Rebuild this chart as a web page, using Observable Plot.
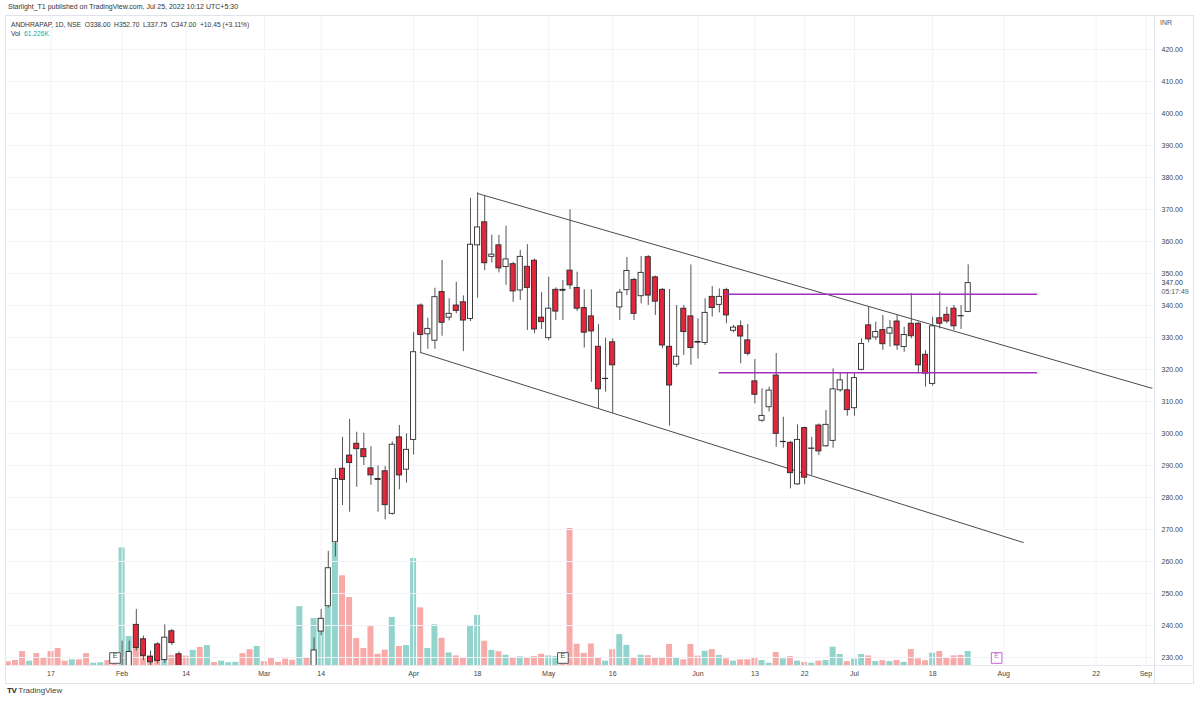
<!DOCTYPE html>
<html>
<head>
<meta charset="utf-8">
<script src="https://cdn.jsdelivr.net/npm/d3@7"></script>
<script src="https://cdn.jsdelivr.net/npm/@observablehq/plot@0.6"></script>
<style>
  html, body { margin: 0; padding: 0; background: #fff; }
  #wrap { position: relative; width: 1200px; height: 702px; overflow: hidden; font-family: "Liberation Sans", Arial, sans-serif; }
  .abs { position: absolute; white-space: pre; }
  #frame { position: absolute; left: 5px; top: 15px; width: 1189px; height: 669px; border: 1px solid #e0e3eb; box-sizing: border-box; }
  #sep { position: absolute; left: 1154px; top: 15px; width: 1px; height: 669px; background: #e0e3eb; }
  #paneBottom { position: absolute; left: 6px; top: 665px; width: 1187px; height: 1px; background: #e6e8ee; }
  #vol, #price { position: absolute; left: 6px; top: 15px; }
</style>
</head>
<body>
<div id="wrap">
  <div id="frame"></div>
  <div id="vol"></div>
  <div id="price"></div>
  <div id="sep"></div>
  <div id="paneBottom"></div>
  <div class="abs" style="left:8px;top:3px;font-size:7px;color:#333;">Starlight_T1 published on TradingView.com, Jul 25, 2022 10:12 UTC+5:30</div>
  <div class="abs" style="left:11px;top:20.5px;font-size:6.7px;color:#333;">ANDHRAPAP, 1D, NSE  O338.00  H352.70  L337.75  C347.00  +10.45 (+3.11%)</div>
  <div class="abs" style="left:11px;top:30px;font-size:6.7px;color:#333;">Vol  <span style="color:#26a69a">61.226K</span></div>
  <div class="abs" style="left:1160px;top:19px;font-size:7px;color:#555;">INR</div>
  <div class="abs" style="left:7px;top:686px;font-size:8px;color:#222;"><b style="letter-spacing:-0.5px">TV</b> <span style="color:#444">TradingView</span></div>
</div>
<script>
// ---- time axis (trading-day index, 0 = 17 Jan 2022) ----
const tickDays   = [0, 10, 19, 30, 38, 51, 60, 70, 79, 91, 99, 106, 113, 124, 134, 147, 154];
const tickLabels = ["17","Feb","14","Mar","14","Apr","18","May","16","Jun","13","22","Jul","18","Aug","22","Sep"];

// ---- daily candles (only those visible in the pane) ----
const candleDay = [10,11,12,13,14,15,16,17,18,
  37,38,39,40,41,42,43,44,45,46,47,48,49,50,51,52,53,54,55,56,57,58,59,60,61,62,63,64,65,66,67,68,69,70,
  71,72,73,74,75,76,77,78,79,80,81,82,83,84,85,86,87,88,89,90,91,92,93,94,95,96,97,98,99,100,
  101,102,103,104,105,106,107,108,109,110,111,112,113,114,115,116,117,118,119,120,121,122,123,124,125,126,127,128,129];
const open  = [216,226,240.2,235.7,230.2,234.1,229.2,238.2,231.0,
  225,238.1,246.0,266.0,289.0,293.1,296.8,295.1,289.1,285.8,288.2,274.9,298.8,288.7,298.0,340.0,331.0,329.0,344.2,336.2,340.0,341.0,335.8,358.8,366.0,355.2,358.8,352.0,352.9,344.7,352.1,354.0,336.2,329.8,
  344.9,344.9,350.9,345.5,339.2,336.6,327.1,317.1,328.5,339.4,344.8,348.0,342.9,355.1,348.8,344.9,327.1,321.5,339.0,336.6,328.6,328.3,342.7,340.2,344.8,332.1,333.5,329.1,316.3,304.0,
  308.2,318.1,297.3,297.1,284.1,301.7,295.2,302.5,296.0,297.7,313.5,313.5,307.9,319.9,333.8,330.0,332.3,331.2,335.0,327.0,334.3,334.3,324.6,315.5,336.0,337.1,339.0,336.7,338.0];
const high  = [235.1,235.1,245.0,236.7,232.0,234.6,240.2,238.8,231.7,
  236.1,245.0,263.2,289.0,298.8,304.4,300.4,300.1,295.9,289.9,289.7,297.4,302.5,299.9,331.5,340.5,336.0,345.4,354.1,342.1,347.3,343.0,373.5,375.2,374.4,362.0,361.9,364.8,353.5,357.2,359.0,354.5,344.0,348.8,
  345.5,347.8,369.9,350.4,344.9,344.9,334.0,329.8,329.6,345.0,355.0,348.5,355.3,355.6,349.2,345.3,345.0,340.0,340.0,352.7,335.8,342.1,345.9,345.2,345.4,333.8,335.2,334.1,323.1,314.0,
  314.5,325.0,305.1,297.5,302.7,302.0,298.8,303.0,307.2,320.2,319.0,319.0,319.0,329.6,339.5,334.8,336.9,335.3,336.9,333.2,343.7,334.8,325.9,336.3,344.2,339.5,340.0,340.0,352.7];
const low   = [214,225,232.0,229.0,227.5,228.0,228.2,233.7,225.0,
  223,236.8,245.5,261.4,277.5,275.4,283.2,290.0,283.8,275.4,273.0,274.5,282.4,284.5,293.3,324.9,326.3,326.3,330.4,335.2,337.4,325.6,335.0,342.3,350.9,353.3,350.2,346.3,341.0,341.6,332.2,331.2,332.5,329.0,
  335.3,335.3,345.0,338.1,326.7,316.0,307.7,312.9,306.2,335.3,343.1,335.3,340.5,340.0,336.9,326.5,302.3,320.7,324.4,321.3,323.3,327.5,336.4,337.7,334.3,331.5,321.8,324.2,309.3,303.5,
  306.7,295.7,295.4,282.7,283.8,284.0,286.9,293.1,295.7,295.4,312.9,305.4,305.4,319.6,328.3,329.1,326.0,327.0,326.0,325.4,329.6,318.7,314.5,314.8,332.7,334.3,332.2,332.5,337.75];
const close = [224,231.7,233.0,230.5,228.5,228.9,236.2,234.5,226.5,
  232.2,242.1,257.9,285.8,285.5,290.8,295.1,292.6,286.9,285.5,277.6,296.5,286.9,294.9,325.4,330.8,332.7,342.6,334.6,337.4,338.3,335.3,359.0,364.4,353.2,355.9,351.6,354.4,344.4,355.2,345.5,332.5,334.8,339.0,
  338.1,344.6,346.3,339.0,331.5,331.9,313.8,317.0,321.3,344.0,350.8,337.4,350.2,343.1,341.2,327.5,315.0,324.0,331.7,326.7,328.4,337.7,339.2,342.7,336.9,333.1,330.3,324.9,312.1,305.5,
  313.4,299.9,297.4,287.6,298.0,286.2,295.3,294.4,302.7,313.8,316.6,307.3,317.3,328.0,329.4,331.7,327.9,332.9,327.5,330.8,330.4,321.3,318.7,333.5,334.3,335.0,333.5,336.6,347.0];

// ---- volume (thousands), days -6 .. 129, ten per row ----
const volStart = -6;
const volume = [
  16,22,61,19,52,32,61,74,19,25,
  25,52,10,12,22,18,514,127,79,52,
  44,39,22,44,51,41,66,79,87,13,
  19,12,14,52,69,83,17,31,14,28,
  23,257,34,205,205,256,533,392,297,118,
  74,170,49,67,210,83,87,468,252,74,
  178,119,55,42,34,175,219,106,66,60,
  45,35,38,31,39,49,42,39,35,599,
  93,53,94,33,19,69,135,88,32,45,
  43,35,35,92,35,25,92,41,62,69,
  44,29,19,25,25,31,22,10,57,29,
  39,19,13,10,19,22,80,48,17,28,
  48,42,17,21,17,22,14,70,29,21,
  54,61,35,42,44,61.226];
// u = up-volume bar (teal), d = down-volume bar (red), same order
const volDir = [
  "dddudddddu", "dduudduudd", "ddudddudud", "uuuddudddd", "duduuuuddd",
  "dddduduudu", "ududduudud", "ududdduudd", "dddduduudu", "ddddudddud",
  "ududdduudu", "dududuuudu", "ududududdd", "uddddu"].join("");

// ---- drawings ----
const channelUpper = {x1: 60, y1: 375.0, x2: 154.9, y2: 314.1};
const channelLower = {x1: 52, y1: 325.3, x2: 136.8, y2: 265.9};
const levelDays  = [[94.9, 138.7], [93.9, 138.7]];
const levelPrice = [343.5, 319.0];
const earningsDays = [9, 72];
const futureEarningsDays = [133];
const lastPrice = 347.0, lastPriceTimer = "05:17:49";

// ---- build tables ----
const candles = candleDay.map((d, k) => ({d, o: open[k], h: high[k], l: low[k], c: close[k]}));
const vols = volume.map((v, k) => ({d: volStart + k, v, up: volDir[k] === "u"}));
const links = [channelUpper, channelLower];
const levels = levelPrice.map((p, k) => ({x1: levelDays[k][0], x2: levelDays[k][1], y: p}));

const W = 1187, H = 672;
const xDomain = [-6.259, 155.345];
const RED = "#e3263c", TEAL = "#92d3cc", PINK = "#f7aaa8";

const volPlot = Plot.plot({
  width: W, height: H,
  marginLeft: 0, marginRight: 38, marginTop: 512.7, marginBottom: 22,
  x: {domain: xDomain, axis: null},
  y: {domain: [0, 600], axis: null},
  style: {background: "transparent"},
  marks: [
    Plot.rectY(vols, {x1: d => d.d - 0.42, x2: d => d.d + 0.42, y: "v", fill: d => d.up ? TEAL : PINK, clip: true})
  ]
});
document.getElementById("vol").appendChild(volPlot);

const pricePlot = Plot.plot({
  width: W, height: H,
  marginLeft: 0, marginRight: 38, marginTop: 0, marginBottom: 21,
  x: {domain: xDomain},
  y: {domain: [227.19, 430.625]},
  style: {background: "transparent", fontSize: "7px", color: "#444", fontFamily: "Liberation Sans, Arial, sans-serif"},
  marks: [
    Plot.gridX(tickDays, {stroke: "#f1f3f8", strokeOpacity: 1}),
    Plot.gridY(d3.range(230, 421, 10), {stroke: "#f1f3f8", strokeOpacity: 1}),
    Plot.axisY({anchor: "right", ticks: d3.range(230, 421, 10), tickFormat: d => d.toFixed(2), tickSize: 0, tickPadding: 6}),
    Plot.axisX({ticks: tickDays, tickFormat: d => tickLabels[tickDays.indexOf(d)], tickSize: 0, tickPadding: 5}),
    Plot.link(links, {x1: "x1", y1: "y1", x2: "x2", y2: "y2", stroke: "#4a4a4a", strokeWidth: 1, clip: true}),
    Plot.ruleX(candles, {x: "d", y1: "l", y2: "h", stroke: "#555", strokeWidth: 1, clip: true}),
    Plot.rect(candles, {x1: d => d.d - 0.36, x2: d => d.d + 0.36, y1: "o", y2: "c",
      fill: d => d.c >= d.o ? "#ffffff" : RED, stroke: "#2b2b2b", strokeWidth: 0.9, clip: true}),
    Plot.link(levels, {x1: "x1", x2: "x2", y1: "y", y2: "y", stroke: "#a32fc0", strokeWidth: 1.4}),
    Plot.dot(earningsDays, {x: d => d, frameAnchor: "bottom", dy: -8.5, symbol: "square", r: 6.0, fill: "white", stroke: "#555", strokeWidth: 1}),
    Plot.text(earningsDays, {x: d => d, frameAnchor: "bottom", dy: -8.5, text: () => "E", fill: "#444", fontSize: 7}),
    Plot.dot(futureEarningsDays, {x: d => d, frameAnchor: "bottom", dy: -8.5, symbol: "square", r: 6.0, fill: "white", stroke: "#c660de", strokeWidth: 1}),
    Plot.text(futureEarningsDays, {x: d => d, frameAnchor: "bottom", dy: -8.5, text: () => "E", fill: "#c660de", fontSize: 7}),
    Plot.text([lastPrice], {x: () => xDomain[1], y: d => d, dx: 6, textAnchor: "start", text: d => d.toFixed(2), fill: "#333"}),
    Plot.text([lastPrice], {x: () => xDomain[1], y: d => d, dx: 6, dy: 9, textAnchor: "start", text: () => lastPriceTimer, fill: "#555"})
  ]
});
document.getElementById("price").appendChild(pricePlot);
</script>
</body>
</html>
